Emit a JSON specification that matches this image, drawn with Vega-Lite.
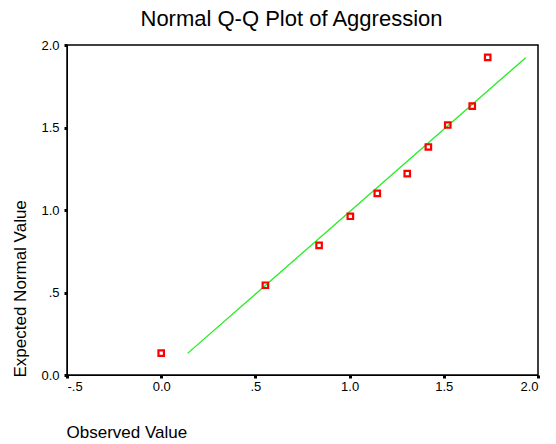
{
  "$schema": "https://vega.github.io/schema/vega-lite/v6.json",
  "autosize": "none",
  "width": 471,
  "height": 330,
  "padding": {"left": 67, "top": 45, "right": 18, "bottom": 69},
  "background": "white",
  "title": {
    "text": "Normal Q-Q Plot of Aggression",
    "font": "Liberation Sans",
    "fontSize": 22,
    "fontWeight": "normal",
    "color": "black",
    "anchor": "middle",
    "dx": -11,
    "offset": 8
  },
  "config": {
    "view": {"stroke": "black", "strokeWidth": 1.5},
    "axis": {
      "labelFont": "Liberation Sans",
      "labelFontSize": 13,
      "labelColor": "black",
      "titleFont": "Liberation Sans",
      "titleFontWeight": "normal",
      "titleColor": "black",
      "grid": false,
      "domainColor": "black",
      "tickColor": "black",
      "tickWidth": 3,
      "tickSize": 3
    }
  },
  "datasets": {
    "points": [
      {"observed": 0.0, "expected": 0.133},
      {"observed": 0.553, "expected": 0.544},
      {"observed": 0.838, "expected": 0.786},
      {"observed": 1.004, "expected": 0.962},
      {"observed": 1.147, "expected": 1.101},
      {"observed": 1.306, "expected": 1.22},
      {"observed": 1.418, "expected": 1.382},
      {"observed": 1.521, "expected": 1.515},
      {"observed": 1.651, "expected": 1.63},
      {"observed": 1.733, "expected": 1.925}
    ],
    "line": [
      {"observed": 0.14, "expected": 0.131},
      {"observed": 1.935, "expected": 1.923}
    ]
  },
  "layer": [
    {
      "data": {"name": "line"},
      "mark": {"type": "line", "color": "#22ee22", "strokeWidth": 1.3},
      "encoding": {
        "x": {
          "field": "observed", "type": "quantitative",
          "scale": {"domain": [-0.5, 2.0], "nice": false, "zero": false},
          "axis": {
            "values": [-0.5, 0, 0.5, 1.0, 1.5, 2.0],
            "labelExpr": "datum.value == 0 ? '0.0' : datum.value == -0.5 ? '-.5' : datum.value == 0.5 ? '.5' : format(datum.value, '.1f')",
            "title": "Observed Value",
            "titleFontSize": 17,
            "titleAnchor": "start",
            "titleAlign": "left",
            "titleX": -1,
            "titleY": 62,
            "titleBaseline": "alphabetic",
            "labelPadding": 2
          }
        },
        "y": {
          "field": "expected", "type": "quantitative",
          "scale": {"domain": [0, 2.0], "nice": false, "zero": false},
          "axis": {
            "values": [0, 0.5, 1.0, 1.5, 2.0],
            "labelExpr": "datum.value == 0.5 ? '.5' : format(datum.value, '.1f')",
            "title": "Expected Normal Value",
            "titleFontSize": 17,
            "titleAngle": -90,
            "titleAlign": "left",
            "titleBaseline": "middle",
            "titleX": -47,
            "titleY": 332,
            "labelPadding": 5
          }
        }
      }
    },
    {
      "data": {"name": "points"},
      "mark": {"type": "square", "filled": false, "color": "red", "strokeWidth": 2.2, "size": 30, "opacity": 1},
      "encoding": {
        "x": {"field": "observed", "type": "quantitative"},
        "y": {"field": "expected", "type": "quantitative"}
      }
    }
  ]
}
